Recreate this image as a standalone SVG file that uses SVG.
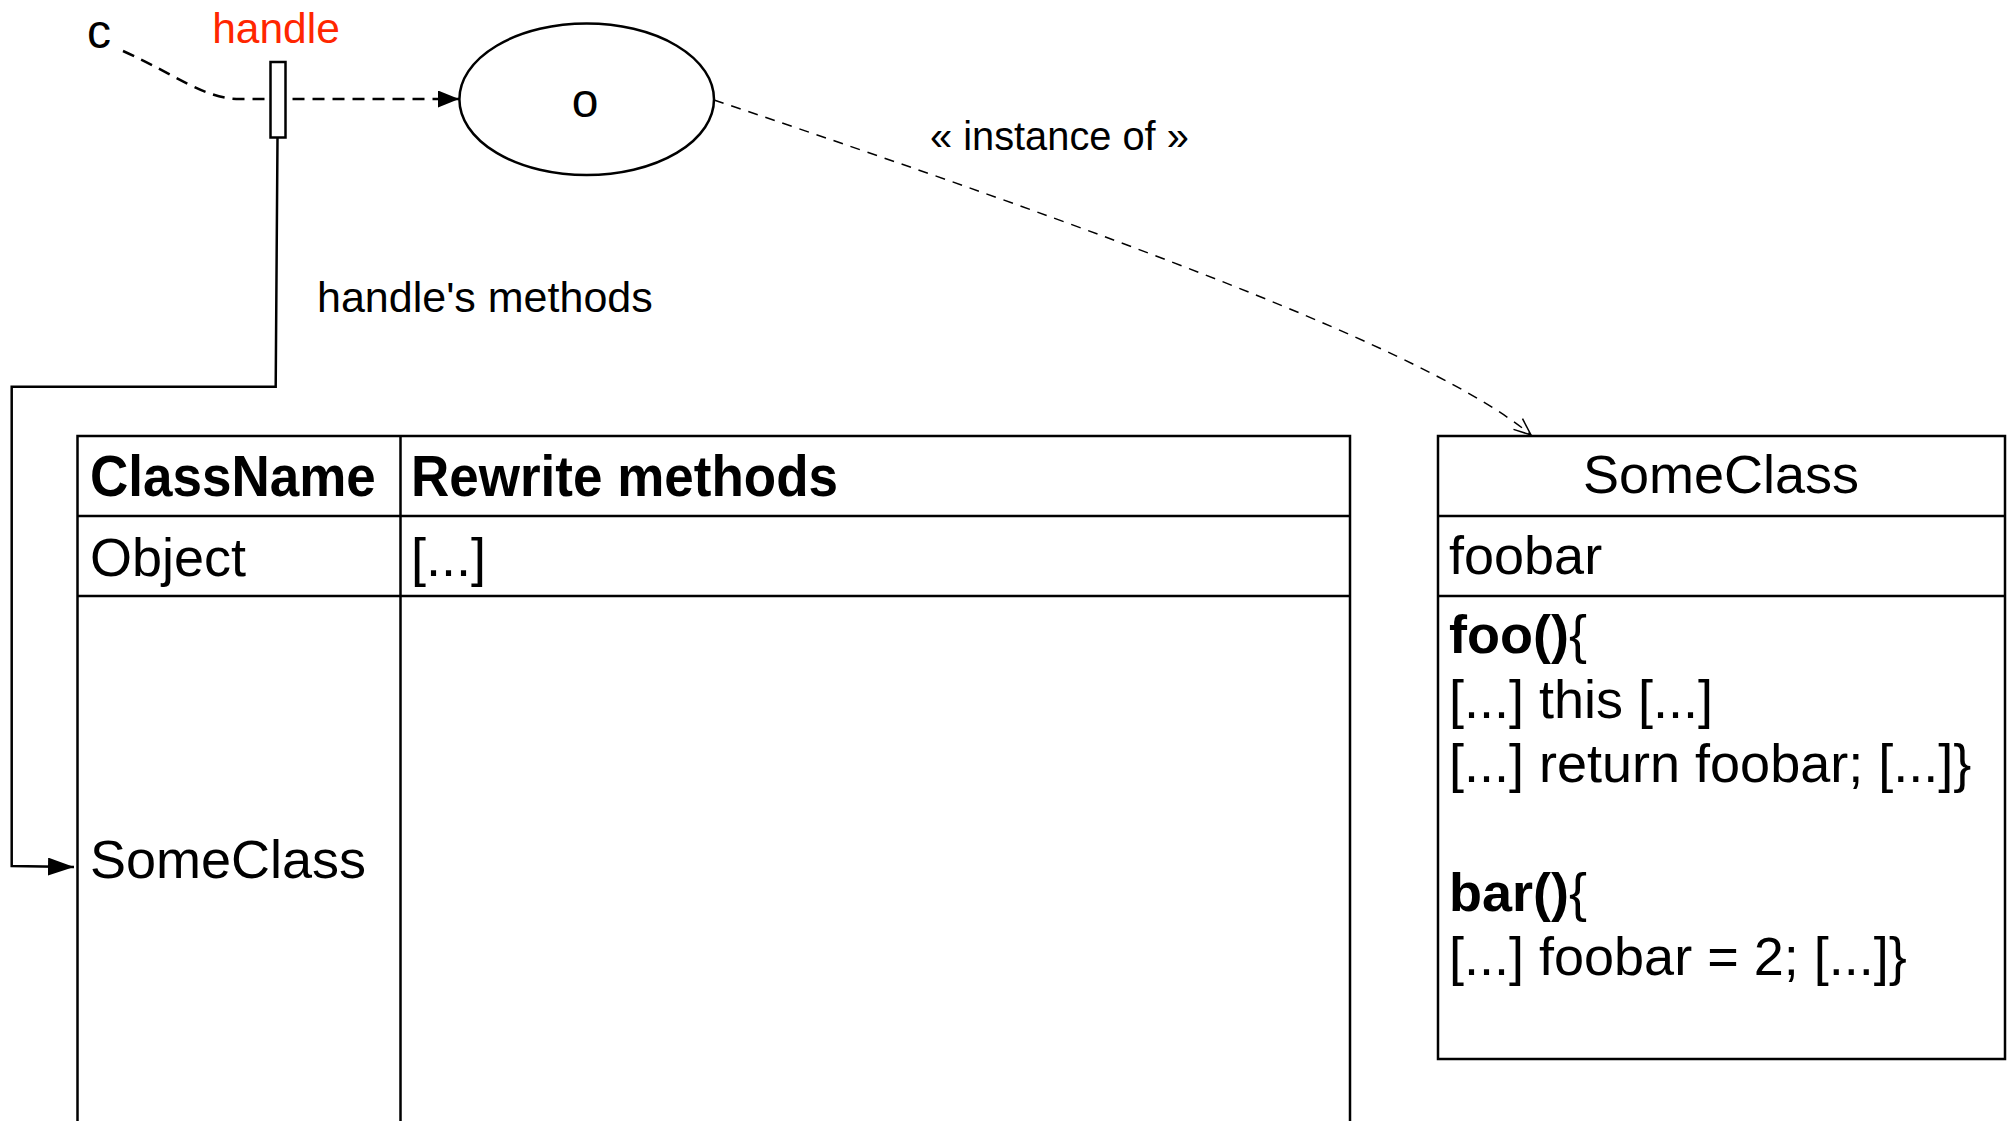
<svg xmlns="http://www.w3.org/2000/svg" width="2013" height="1121" viewBox="0 0 2013 1121">
<style>
.t{font-family:"Liberation Sans",Arial,sans-serif;fill:#000}
.big{font-size:54px}
.hd{font-size:53px;font-weight:bold}
.b{font-weight:bold}
.ln{fill:none;stroke:#000;stroke-width:2.5}
.box{fill:#fff;stroke:#000;stroke-width:2.5}
.dash{fill:none;stroke:#000;stroke-width:2.5;stroke-dasharray:12 8}
.thin{fill:none;stroke:#000;stroke-width:1.5;stroke-dasharray:10 8}
</style>
<defs>
<marker id="fa" markerUnits="userSpaceOnUse" markerWidth="30" markerHeight="24" refX="26" refY="9" orient="auto">
<path d="M0,0 L26,9 L0,18 Z" fill="#000"/>
</marker>
<marker id="fa2" markerUnits="userSpaceOnUse" markerWidth="26" markerHeight="20" refX="21" refY="8.5" orient="auto">
<path d="M0,0 L21,8.5 L0,17 Z" fill="#000"/>
</marker>
<marker id="oa" markerUnits="userSpaceOnUse" markerWidth="22" markerHeight="20" refX="18" refY="8" orient="auto">
<path d="M1,1 L18,8 L1,15" fill="none" stroke="#000" stroke-width="1.5"/>
</marker>
</defs>
<rect width="2013" height="1121" fill="#fff"/>
<g id="connectors">
<path class="dash" d="M123,51 C178,76 205,99 240,99 L459,99" marker-end="url(#fa2)"/>
<path class="ln" d="M277.5,138 L275.7,386.7 L11.7,386.7 L11.7,866 L74,867" marker-end="url(#fa)"/>
<path class="thin" d="M714,100 C1100,230 1430,350 1531,435" marker-end="url(#oa)"/>
</g>
<g id="c-label">
<text class="t" x="87" y="48" font-size="48">c</text>
</g>
<g id="handle">
<rect class="box" x="270.5" y="62" width="15" height="75.5"/>
<text class="t" x="276" y="43" font-size="42.5" text-anchor="middle" style="fill:#ff2600">handle</text>
</g>
<g id="object-o">
<ellipse class="box" cx="586.7" cy="99.3" rx="127.3" ry="75.8"/>
<text class="t" x="585" y="117" font-size="48" text-anchor="middle">o</text>
</g>
<g id="label-instance">
<text class="t" x="930" y="150" font-size="39.8">« instance of »</text>
</g>
<g id="label-methods">
<text class="t" x="317" y="312" font-size="43">handle's methods</text>
</g>
<g id="table">
<rect class="box" x="77.5" y="436" width="1272.5" height="700"/>
<path class="ln" d="M77.5,516 H1350 M77.5,596 H1350 M400.5,436 V1130"/>
<text class="t hd" transform="translate(90,496) scale(1,1.08)">ClassName</text>
<text class="t hd" transform="translate(411,496) scale(1,1.08)">Rewrite methods</text>
<text class="t big" x="90" y="576">Object</text>
<text class="t big" x="411" y="576">[...]</text>
<text class="t big" x="90" y="878">SomeClass</text>
</g>
<g id="someclass">
<rect class="box" x="1438" y="436" width="567" height="623"/>
<path class="ln" d="M1438,516 H2005 M1438,596 H2005"/>
<text class="t big" x="1721" y="493" text-anchor="middle">SomeClass</text>
<text class="t big" x="1449" y="574">foobar</text>
<text class="t big" x="1449" y="653"><tspan class="b">foo()</tspan>{</text>
<text class="t big" x="1449" y="717.5">[...] this [...]</text>
<text class="t big" x="1449" y="782">[...] return foobar; [...]}</text>
<text class="t big" x="1449" y="911"><tspan class="b">bar()</tspan>{</text>
<text class="t big" x="1449" y="975">[...] foobar = 2; [...]}</text>
</g>
</svg>
